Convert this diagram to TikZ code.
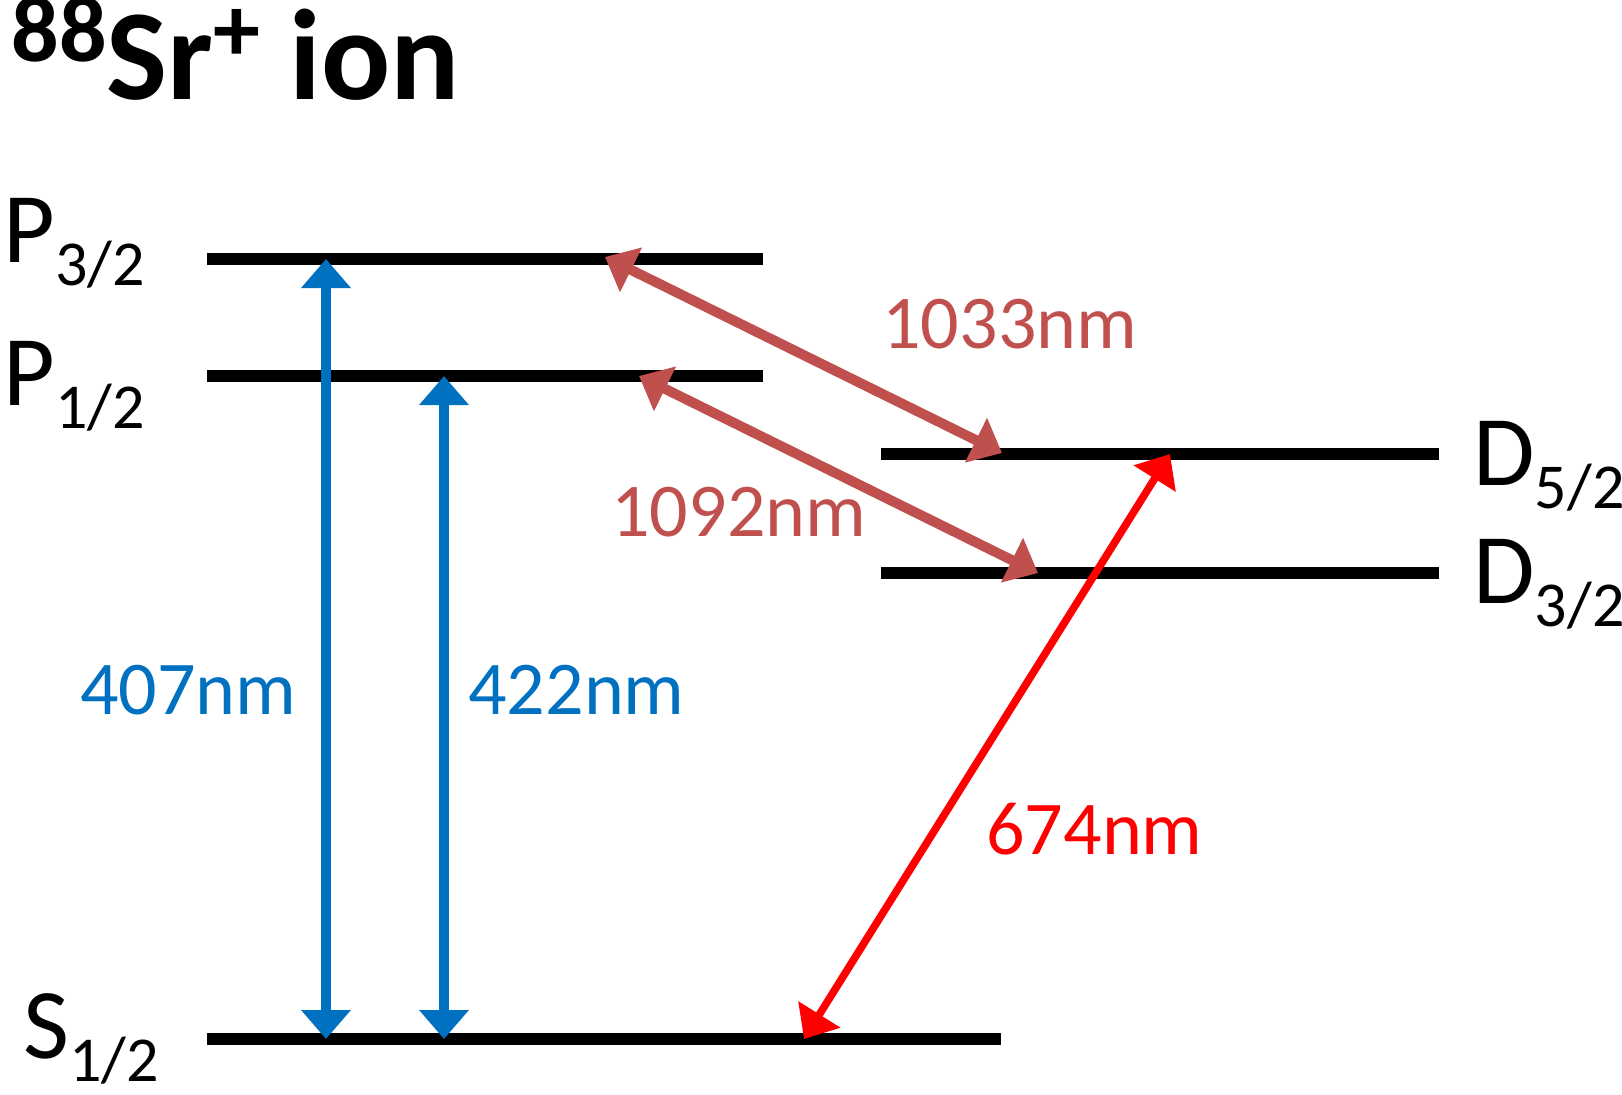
\documentclass[tikz,border=0pt]{standalone}
\usepackage{fontspec}
\setmainfont{Carlito}
\usetikzlibrary{arrows.meta, positioning}
\definecolor{ionblue}{HTML}{0070C0}
\definecolor{irred}{HTML}{C0504D}
\newcommand{\lvl}[2]{#1\raisebox{-11.5pt}{\fontsize{32}{32}\selectfont #2}}
\newcommand{\upidx}[1]{\raisebox{19pt}{\fontsize{47}{48}\selectfont #1}}

\begin{document}
\begin{tikzpicture}[
      x=0.5pt, y=-0.5pt,
      level/.style={line width=6pt},
      trans/.style={line width=5pt, {Triangle[length=14.5pt,width=24pt]}-{Triangle[length=14.5pt,width=24pt]}},
      state/.style={anchor=base west, inner sep=0pt, font=\fontsize{50}{60}\selectfont},
      wave/.style={anchor=base west, inner sep=0pt, font=\fontsize{38}{46}\selectfont}
    ]
    \useasboundingbox (0,0) rectangle (1622,1094);
    \node[anchor=base west, inner sep=0pt, font=\fontsize{64.5}{70}\selectfont\bfseries] (title) at (11,99) {\upidx{88}Sr\upidx{+} ion};

    % levels
    \draw[level] (207,259) coordinate (P3w) -- (763,259) coordinate (P3e);
    \draw[level] (207,376) coordinate (P1w) -- (763,376) coordinate (P1e);
    \draw[level] (881,454) coordinate (D5w) -- (1439,454) coordinate (D5e);
    \draw[level] (881,573) coordinate (D3w) -- (1439,573) coordinate (D3e);
    \draw[level] (207,1039) coordinate (S1w) -- (1001,1039) coordinate (S1e);

    \node[state] (P3) at (3,262) {\lvl{P}{3/2}};
    \node[state] (P1) at (3,405) {\lvl{P}{1/2}};
    \node[state] (D5) at (1473,485) {\lvl{D}{5/2}};
    \node[state] (D3) at (1473,603) {\lvl{D}{3/2}};
    \node[state] (S1) at (23,1058) {\lvl{S}{1/2}};

    % transitions
    \coordinate (a407) at (326,259);
    \coordinate (b407) at (326,1039);
    \coordinate (a422) at (444,376);
    \coordinate (b422) at (444,1039);
    \coordinate (a1033) at (605,257);
    \coordinate (b1033) at (1002,453);
    \coordinate (a1092) at (639,376);
    \coordinate (b1092) at (1038,573);
    \coordinate (a674) at (1170,454);
    \coordinate (b674) at (804,1039);

    \draw[trans, ionblue] (a407) -- (b407);
    \draw[trans, ionblue] (a422) -- (b422);
    \draw[trans, irred] (a1033) -- (b1033);
    \draw[trans, irred] (a1092) -- (b1092);
    \draw[trans, red, line width=3.8pt] (a674) -- (b674);

    \node[wave, ionblue] (l407) at (80,714) {407nm};
    \node[wave, ionblue] (l422) at (468,714) {422nm};
    \node[wave, irred] (l1033) at (882,348) {1033nm};
    \node[wave, irred] (l1092) at (611,536) {1092nm};
    \node[wave, red] (l674) at (986,854) {674nm};
\end{tikzpicture}
\end{document}
